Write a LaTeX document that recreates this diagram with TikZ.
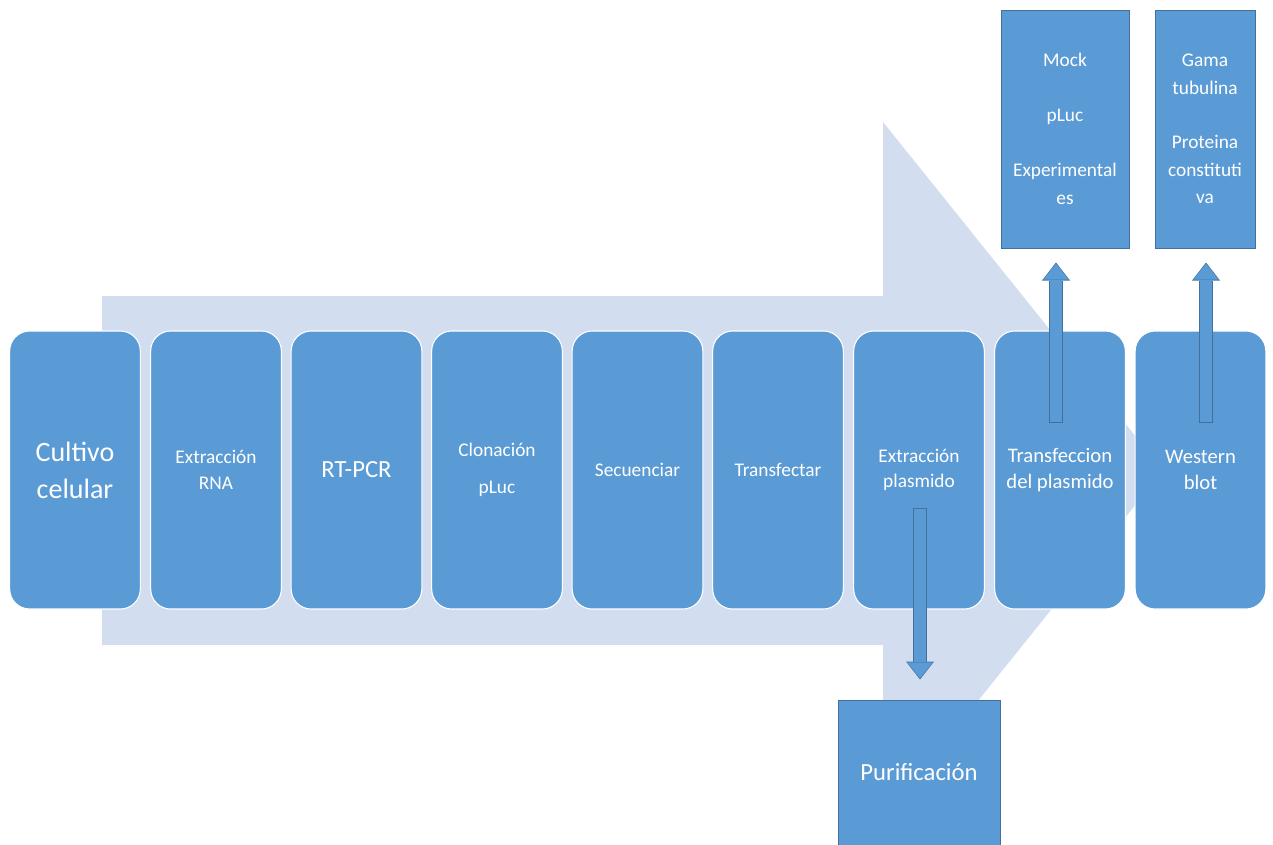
\documentclass[tikz,border=0pt]{standalone}
\usepackage{fontspec}
\setmainfont{Carlito}
\usetikzlibrary{arrows.meta}
\definecolor{stepblue}{HTML}{5B9BD5}
\definecolor{rimblue}{HTML}{41719C}
\definecolor{flowpale}{HTML}{D2DEEF}
\tikzset{
  stage/.style={rounded corners=15pt,fill=stepblue,draw=white,line width=0.8pt,
    minimum width=98pt,minimum height=208.5pt,text=white,align=center,inner sep=2pt},
  result/.style={fill=stepblue,draw=rimblue,line width=0.75pt,text=white,align=center},
  blockarrow/.style={preaction={draw=rimblue,line width=10.5pt,shorten >=0pt,shorten <=0pt,
      -{Triangle[width=21pt,length=13.5pt,line width=0pt]}},
    draw=stepblue,line width=9pt,shorten >=0.9pt,shorten <=0.75pt,
    -{Triangle[width=19pt,length=12pt,line width=0pt]}}
}
\newcommand{\fsz}[2]{\fontsize{#1}{#2}\selectfont}
\begin{document}
\begin{tikzpicture}[x=0.75pt,y=-0.75pt,line join=miter]
  \useasboundingbox (0,0) rectangle (1273,844);
  % broad flow arrow behind the steps
  \fill[flowpale] (102,296) -- (883,296) -- (883,122) -- (1163,470.5)
    -- (883,819) -- (883,645) -- (102,645) -- cycle;
  % steps
  \node[stage,font=\fsz{21}{27.75}] (cult) at (75,470) {Cultivo\\celular};
  \node[stage,font=\fsz{14.5}{20}] (rna) at (216,470) {Extracción\\RNA};
  \node[stage,font=\fsz{18.5}{22}] (pcr) at (356.5,470) {RT-PCR};
  \node[stage,font=\fsz{14.5}{27.75}] (clon) at (497,470) {Clonación\\pLuc};
  \node[stage,font=\fsz{14.5}{20}] (sec) at (637.5,470) {Secuenciar};
  \node[stage,font=\fsz{14.5}{20}] (tfct) at (778,470) {Transfectar};
  \node[stage,font=\fsz{14.5}{19}] (expl) at (919,470) {Extracción\\plasmido};
  \node[stage,font=\fsz{15.5}{19.5}] (trans) at (1060,470) {Transfeccion\\del plasmido};
  \node[stage,font=\fsz{15.5}{20}] (west) at (1200.5,470) {Western\\blot};
  % results
  \node[result,font=\fsz{14.5}{20.6},minimum width=96pt,minimum height=178.5pt] (mock)
    at (1065,129) {Mock\\ \\pLuc\\ \\Experimental\\es};
  \node[result,font=\fsz{14.5}{20.6},minimum width=75pt,minimum height=178.5pt] (gama)
    at (1205,129) {Gama\\tubulina\\ \\Proteina\\constituti\\va};
  \node[result,font=\fsz{18.5}{22},minimum width=121.5pt,minimum height=108.75pt] (puri)
    at (919,772.5) {Purificación};
  % block arrows
  \coordinate (up1) at (1056,423);
  \coordinate (up2) at (1206,423);
  \coordinate (dn1) at (920,508);
  \draw[blockarrow] (up1) -- ([yshift=-10.5pt]up1 |- mock.south);
  \draw[blockarrow] (up2) -- ([yshift=-10.5pt]up2 |- gama.south);
  \draw[blockarrow] (dn1) -- ([yshift=15pt]dn1 |- puri.north);
\end{tikzpicture}
\end{document}
